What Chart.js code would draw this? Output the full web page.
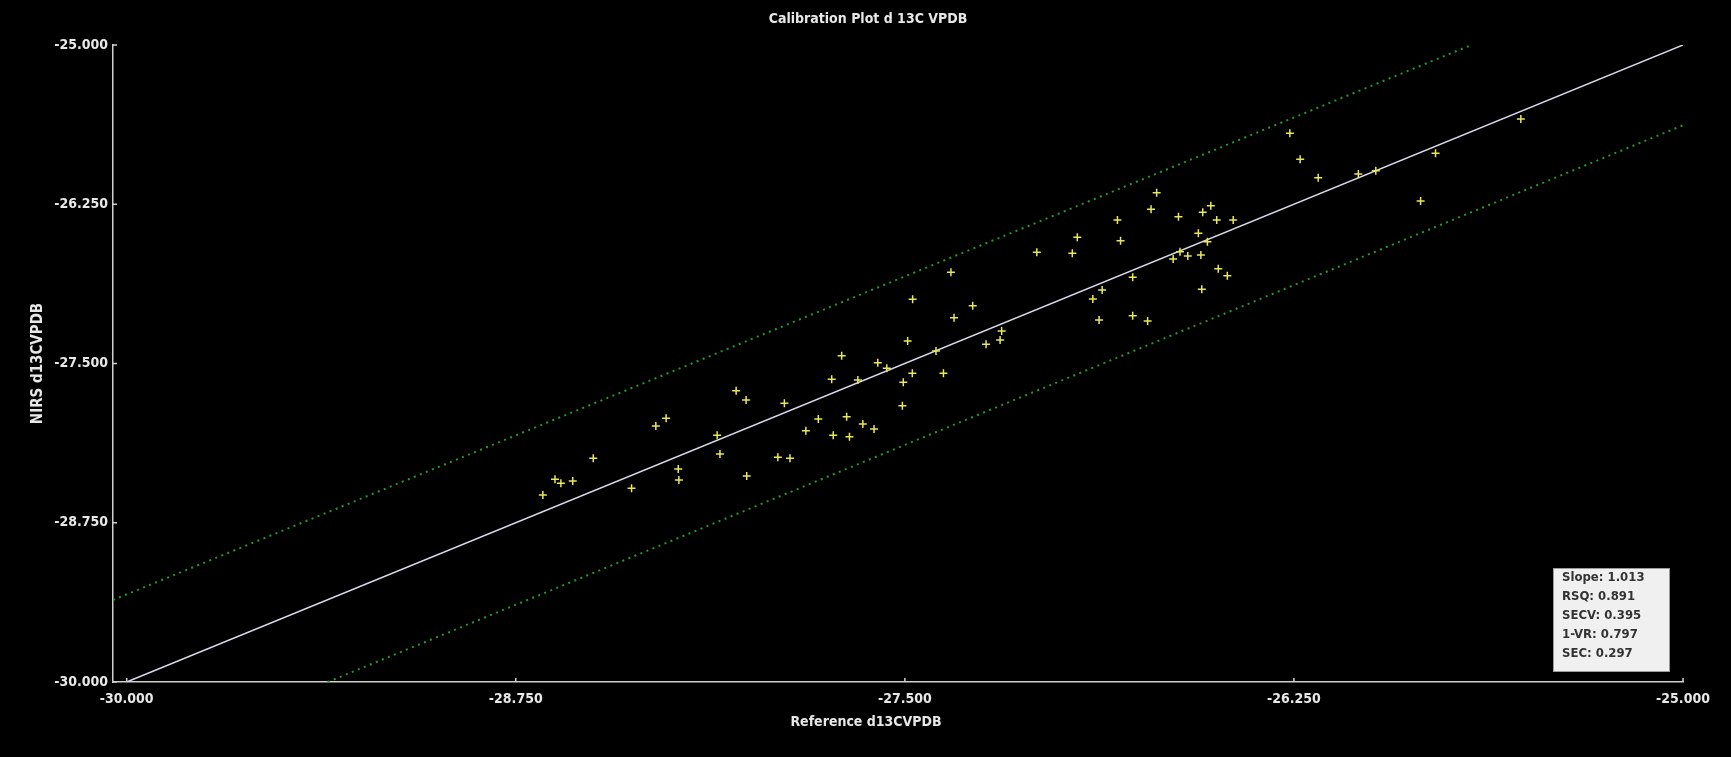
<!DOCTYPE html>
<html lang="en">
<head>
    <meta charset="UTF-8">
    <title>Calibration Plot d 13C VPDB</title>
    <script src="https://cdn.jsdelivr.net/npm/chart.js"></script>
    <style>
        body { margin: 0; background: #000; }
        #box { width: 1731px; height: 757px; }
    </style>
</head>
<body>
    <div id="box">
        <canvas id="calibracao" width="1731" height="757"></canvas>
    </div>

<script>
// ticks of both axes
const xTicks = [-30, -28.75, -27.5, -26.25, -25];
const yTicks = [-30, -28.75, -27.5, -26.25, -25];

// samples: reference value (x) and NIRS prediction (y)
const refX = [
    -27.703, -27.587, -27.558, -27.400, -27.476, -27.376, -27.735, -27.651, -27.505, -28.042,
    -28.010, -27.887, -27.508, -28.267, -28.300, -27.778, -27.687, -27.818, -27.635, -27.599,
    -27.730, -27.678, -28.103, -28.501, -28.094, -27.908, -27.869, -28.228, -28.226, -28.624,
    -28.605, -28.567, -28.378, -28.008, -28.663, -27.352, -27.475, -27.282, -27.342, -27.189,
    -27.194, -27.491, -27.239, -26.691, -26.709, -26.621, -26.517, -26.543, -26.498, -26.445,
    -26.817, -26.946, -26.807, -27.076, -26.962, -26.557, -26.528, -26.616, -26.591, -26.638,
    -26.549, -26.493, -26.464, -26.768, -26.866, -26.896, -26.546, -26.768, -26.876, -26.720,
    -26.263, -26.230, -26.172, -26.043, -25.987, -25.795, -25.843, -25.521
];
const nirsY = [
    -27.439, -27.494, -27.538, -27.402, -27.577, -27.577, -27.624, -27.630, -27.648, -27.713,
    -27.787, -27.812, -27.831, -27.930, -27.991, -27.936, -27.918, -28.027, -27.975, -28.014,
    -28.064, -28.075, -28.064, -28.244, -28.210, -28.236, -28.244, -28.328, -28.414, -28.409,
    -28.440, -28.422, -28.480, -28.383, -28.532, -26.784, -26.996, -27.046, -27.140, -27.245,
    -27.316, -27.323, -27.349, -26.159, -26.290, -26.348, -26.261, -26.313, -26.374, -26.374,
    -26.374, -26.509, -26.536, -26.627, -26.635, -26.478, -26.544, -26.622, -26.656, -26.680,
    -26.648, -26.756, -26.811, -26.823, -26.923, -26.994, -26.918, -27.125, -27.159, -27.166,
    -25.693, -25.897, -26.042, -26.013, -25.987, -25.850, -26.224, -25.581
];

// calibration line and the two limit lines (end points)
const fitX = [-30, -25];
const fitY = [-30, -25];
const upperX = [-30.044, -25.68];
const upperY = [-29.356, -25];
const lowerX = [-29.354, -25];
const lowerY = [-30, -25.63];

const stats = ['Slope: 1.013', 'RSQ: 0.891', 'SECV: 0.395', '1-VR: 0.797', 'SEC: 0.297'];

const tituloTexto = 'Calibration Plot d 13C VPDB';
const tituloX = 'Reference d13CVPDB';
const tituloY = 'NIRS d13CVPDB';

const fonte = "'Liberation Sans Narrow', 'DejaVu Sans Condensed', 'Liberation Sans', sans-serif";

function pares(xs, ys) {
    let saida = [];
    for (let i = 0; i < xs.length; i++) {
        saida.push({ x: xs[i], y: ys[i] });
    }
    return saida;
}

// titles, small inward ticks and the stats box
const extras = {
    id: 'extras',
    afterDraw(chart) {
        const ctx = chart.ctx;
        const xs = chart.scales.x;
        const ys = chart.scales.y;
        const area = chart.chartArea;
        ctx.save();

        // titles (the original centres them a bit left of the axis middle)
        ctx.fillStyle = '#e8e8e8';
        ctx.font = 'bold 14px ' + fonte;
        ctx.textAlign = 'center';
        ctx.textBaseline = 'middle';
        ctx.fillText(tituloTexto, 868, 19);
        ctx.fillText(tituloX, 866, 722);

        ctx.strokeStyle = '#d0d0d0';
        ctx.lineWidth = 1.5;
        ctx.beginPath();
        xTicks.forEach(function (v) {
            const px = xs.getPixelForValue(v);
            ctx.moveTo(px, area.bottom);
            ctx.lineTo(px, area.bottom - 4);
        });
        yTicks.forEach(function (v) {
            const py = ys.getPixelForValue(v);
            ctx.moveTo(area.left, py);
            ctx.lineTo(area.left + 4, py);
        });
        ctx.stroke();

        // stats box
        const bx = area.right - 130, by = area.bottom - 114, bw = 116, bh = 103;
        ctx.fillStyle = '#f0f0f0';
        ctx.fillRect(bx, by, bw, bh);
        ctx.strokeStyle = '#9a9a9a';
        ctx.lineWidth = 1;
        ctx.strokeRect(bx + 0.5, by + 0.5, bw, bh);
        ctx.fillStyle = '#333333';
        ctx.font = 'bold 13px ' + fonte;
        ctx.textBaseline = 'middle';
        ctx.textAlign = 'left';
        stats.forEach(function (t, i) {
            ctx.fillText(t, bx + 9, by + 10 + i * 19);
        });
        ctx.restore();
    }
};

const config = {
    type: 'scatter',
    data: {
        datasets: [
            {
                label: 'Samples',
                data: pares(refX, nirsY),
                pointStyle: 'cross',
                pointRadius: 4,
                borderWidth: 1.5,
                borderColor: '#e8e858',
                backgroundColor: '#e8e858'
            },
            {
                label: 'Calibration',
                data: pares(fitX, fitY),
                showLine: true,
                pointRadius: 0,
                borderWidth: 1.5,
                borderColor: '#dcdcec'
            },
            {
                label: 'Upper',
                data: pares(upperX, upperY),
                showLine: true,
                pointRadius: 0,
                borderWidth: 2,
                borderDash: [2, 4.5],
                borderColor: '#27992a'
            },
            {
                label: 'Lower',
                data: pares(lowerX, lowerY),
                showLine: true,
                pointRadius: 0,
                borderWidth: 2,
                borderDash: [2, 4.5],
                borderColor: '#27992a'
            }
        ]
    },
    options: {
        responsive: false,
        animation: false,
        layout: { padding: { left: 0, right: 48, top: 45, bottom: 0 } },
        plugins: {
            legend: { display: false },
            tooltip: { enabled: false },
            title: { display: false }
        },
        scales: {
            x: {
                type: 'linear',
                min: -30.044,
                max: -25,
                afterBuildTicks: function (s) { s.ticks = xTicks.map(v => ({ value: v })); },
                afterFit: function (s) { s.height = 75; },
                grid: { display: false, drawTicks: false },
                border: { display: true, color: '#d0d0d0', width: 1.5 },
                ticks: {
                    color: '#e8e8e8',
                    padding: 9,
                    autoSkip: false,
                    maxRotation: 0,
                    font: { family: fonte, size: 14, weight: 'bold' },
                    callback: v => v.toFixed(3)
                },
                title: { display: false }
            },
            y: {
                type: 'linear',
                min: -30,
                max: -25,
                afterBuildTicks: function (s) { s.ticks = yTicks.map(v => ({ value: v })); },
                afterFit: function (s) { s.width = 113; },
                grid: { display: false, drawTicks: false },
                border: { display: true, color: '#d0d0d0', width: 1.5 },
                ticks: {
                    color: '#e8e8e8',
                    padding: 5,
                    autoSkip: false,
                    font: { family: fonte, size: 14, weight: 'bold' },
                    callback: v => v.toFixed(3)
                },
                title: {
                    display: true,
                    text: tituloY,
                    color: '#e8e8e8',
                    font: { family: fonte, size: 15, weight: 'bold' },
                    padding: { top: 29, bottom: 4 }
                }
            }
        }
    },
    plugins: [extras]
};

const grafico = new Chart(document.getElementById('calibracao'), config);
</script>
</body>
</html>
